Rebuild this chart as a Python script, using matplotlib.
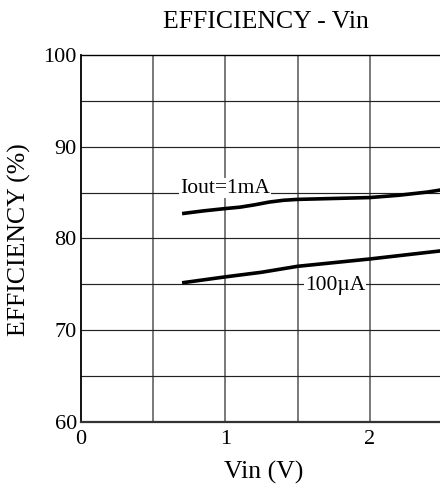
"""Efficiency vs input voltage for two load currents (datasheet style chart)."""
import matplotlib
matplotlib.use("Agg")
import matplotlib.pyplot as plt

# Iout = 1mA curve
VIN_1MA = [0.7, 0.85, 1.0, 1.1, 1.2, 1.3, 1.4, 1.5, 1.75, 2.0, 2.2, 2.4, 2.5]
EFF_1MA = [82.7, 83.0, 83.25, 83.4, 83.65, 83.95, 84.15, 84.25, 84.35, 84.45, 84.7, 85.05, 85.3]

# Iout = 100uA curve
VIN_100UA = [0.7, 1.0, 1.25, 1.5, 1.75, 2.0, 2.25, 2.5]
EFF_100UA = [75.15, 75.8, 76.3, 76.95, 77.35, 77.75, 78.2, 78.65]

X_TICKS = [0, 1, 2]
Y_TICKS = [60, 70, 80, 90, 100]

plt.rcParams["font.family"] = ["Liberation Serif", "DejaVu Serif"]

fig = plt.figure(figsize=(4.4, 4.9), dpi=100)
# axes runs slightly past the right edge, like the cropped original
ax = fig.add_axes([81 / 440, 1 - 421.7 / 490, 361 / 440, 366.7 / 490])

ax.set_xlim(0, 2.5)
ax.set_ylim(60, 100)

# grid every 0.5 V and 5 %
for x in [0.5, 1.0, 1.5, 2.0]:
    ax.axvline(x, color="#555555", lw=1.1, zorder=1)
for y in [65, 70, 75, 80, 85, 90, 95]:
    ax.axhline(y, color="#222222", lw=0.85, zorder=1)

ax.plot(VIN_1MA, EFF_1MA, color="black", lw=2.6, solid_capstyle="butt", zorder=3)
ax.plot(VIN_100UA, EFF_100UA, color="black", lw=2.6, solid_capstyle="butt", zorder=3)

box = dict(facecolor="white", edgecolor="none", pad=0.6)
ax.text(0.685, 85.0, "Iout=1mA", fontsize=15.5, ha="left", va="baseline",
        bbox=box, zorder=4)
ax.text(1.55, 74.37, "100µA", fontsize=15.5, ha="left", va="baseline",
        bbox=box, zorder=4)

ax.set_xticks(X_TICKS)
ax.set_yticks(Y_TICKS)
ax.tick_params(axis="both", length=0, labelsize=16)
ax.tick_params(axis="x", pad=6)
ax.tick_params(axis="y", pad=3)

ax.spines["right"].set_visible(False)
ax.spines["top"].set_linewidth(1.0)
ax.spines["left"].set_linewidth(1.3)
ax.spines["bottom"].set_linewidth(1.6)
ax.spines["bottom"].set_color("#333333")

fig.text(266 / 440, 1 - 22 / 490, "EFFICIENCY - Vin", fontsize=18.5,
         ha="center", va="center")
fig.text(264 / 440, 1 - 472 / 490, "Vin (V)", fontsize=18.5,
         ha="center", va="center")
fig.text(19 / 440, 1 - 240 / 490, "EFFICIENCY (%)", fontsize=18.5,
         ha="center", va="center", rotation=90)

fig.savefig("out.png", dpi=100)
